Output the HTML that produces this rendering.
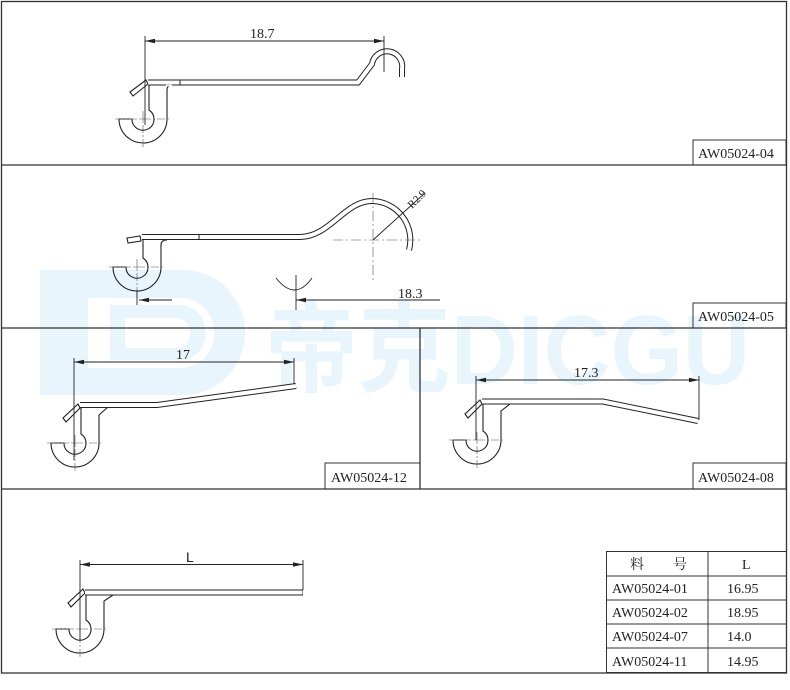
<!DOCTYPE html>
<html><head><meta charset="utf-8">
<style>
html,body{margin:0;padding:0;background:#fff;}
svg{display:block;}
.t{font-family:"Liberation Serif","Noto Serif CJK SC",serif;fill:#222;}
.wm{font-family:"Liberation Sans","Noto Sans CJK SC",sans-serif;font-weight:bold;fill:#e9f5fc;}
</style></head>
<body>
<svg width="790" height="690" viewBox="0 0 790 690" xmlns="http://www.w3.org/2000/svg">
<defs>
  <marker id="ar" markerWidth="10" markerHeight="6" refX="10" refY="3" orient="auto-start-reverse" markerUnits="userSpaceOnUse">
    <path d="M0,0.8 L10,3 L0,5.2 z" fill="#222"/>
  </marker>
  <g id="core" fill="none" stroke="#222" stroke-width="1.1">
    <path d="M6,-22 L6,-9 A11,11 0 1 1 -11,0 L-24,0 A24,24 0 0 0 24,0 L24,-22"/>
    <path d="M-28,0 H28 M0,-8 V30 M-4,0 H4 M0,-4 V4" stroke-width="0.6" stroke="#555" stroke-dasharray="8 2 2 2"/>
  </g>
</defs>

<!-- watermark -->
<g fill="#e9f5fc" fill-rule="evenodd">
  <path d="M40,270 H185 A62,62 0 0 1 245,332 A62,62 0 0 1 185,395 H40 Z M72,298 V368 H180 A34,34 0 0 0 214,333 A34,34 0 0 0 180,298 Z"/>
  <path d="M110,305 H180 A25,25 0 0 1 205,330 A25,25 0 0 1 180,360 H110 Z M125,318 V348 H178 A14,14 0 0 0 190,333 A14,14 0 0 0 178,318 Z"/>
  <rect x="72" y="298" width="16" height="70"/>
</g>
<text class="wm" x="265" y="384" font-size="98" textLength="485" lengthAdjust="spacingAndGlyphs">帝克DICGU</text>

<!-- frame -->
<g fill="none" stroke="#333" stroke-width="1.3">
  <rect x="1.5" y="1.5" width="785" height="671.5"/>
  <line x1="1" y1="165" x2="787" y2="165"/>
  <line x1="1" y1="328" x2="787" y2="328"/>
  <line x1="1" y1="489" x2="787" y2="489"/>
  <line x1="420" y1="328" x2="420" y2="489"/>
</g>
<g fill="none" stroke="#333" stroke-width="1">
  <rect x="693" y="140" width="93" height="25"/>
  <rect x="693" y="303" width="93" height="25"/>
  <rect x="325" y="463" width="95" height="26"/>
  <rect x="693" y="463" width="93" height="26"/>
</g>
<g class="t" font-size="14">
  <text class="t" x="698" y="158">AW05024-04</text>
  <text class="t" x="698" y="321">AW05024-05</text>
  <text class="t" x="331" y="482">AW05024-12</text>
  <text class="t" x="698" y="482">AW05024-08</text>
</g>

<!-- View 1 -->
<use href="#core" x="143" y="119"/>
<g fill="none" stroke="#222" stroke-width="1.1">
  <path d="M149,97 V80"/>
  <path d="M167,97 V90 Q167,85 172,85"/>
  <path d="M130,92 L133,96 L148,84 L146,80 Z"/>
</g>
<path d="M148,82.5 L358,82.5 L372,64 A14,14 0 0 1 402,69 L402,77" fill="none" stroke="#222" stroke-width="6"/>
<path d="M148,82.5 L358,82.5 L372,64 A14,14 0 0 1 402,69 L402,77" fill="none" stroke="#fff" stroke-width="4"/>
<path d="M166,85.5 H172" stroke="#fff" stroke-width="1.5"/>
<line x1="180" y1="80" x2="180" y2="85" stroke="#222"/>
<g stroke="#222" stroke-width="0.9">
  <line x1="145" y1="36" x2="145" y2="125"/>
  <line x1="384" y1="36" x2="384" y2="72"/>
  <line x1="145" y1="41" x2="384" y2="41" marker-start="url(#ar)" marker-end="url(#ar)"/>
</g>
<text class="t" x="250" y="38" font-size="14">18.7</text>

<!-- View 2 -->
<use href="#core" x="137" y="267"/>
<g fill="none" stroke="#222" stroke-width="1.1">
  <path d="M143,246 V235"/>
  <path d="M161,246 V245 Q161,240 167,240"/>
  <path d="M127,238 L128,243 L141,241 L140,236 Z"/>
</g>
<path d="M142,237 L300,237 C330,237 345,200 373,201 A39,39 0 0 1 409,250" fill="none" stroke="#222" stroke-width="6"/>
<path d="M142,237 L300,237 C330,237 345,200 373,201 A39,39 0 0 1 409,250" fill="none" stroke="#fff" stroke-width="4"/>
<line x1="199" y1="234" x2="199" y2="240" stroke="#222"/>
<g stroke="#555" stroke-width="0.6" stroke-dasharray="10 3 2 3">
  <line x1="333" y1="240" x2="420" y2="240"/>
  <line x1="373" y1="193" x2="373" y2="282"/>
</g>
<g stroke="#222" stroke-width="0.9" fill="none">
  <line x1="373" y1="240" x2="425" y2="193"/>
  <path d="M276,278 Q295,302 312,278"/>
  <line x1="296" y1="275" x2="296" y2="310"/>
  <line x1="296" y1="300" x2="440" y2="300" marker-start="url(#ar)"/>
  <line x1="137" y1="290" x2="137" y2="305"/>
  <line x1="139" y1="300" x2="172" y2="300" marker-start="url(#ar)"/>
</g>
<text class="t" x="412" y="209" font-size="11" transform="rotate(-45 412 209)">R2.9</text>
<text class="t" x="398" y="298" font-size="14">18.3</text>

<!-- View 12 -->
<use href="#core" x="75" y="443"/>
<g fill="none" stroke="#222" stroke-width="1.1">
  <path d="M81,421 V403"/>
  <path d="M99,421 L99,415 L108,407"/>
  <path d="M63,418 L66,422 L80,408 L78,404 Z"/>
</g>
<path d="M80,405 L157,405 L296,386" fill="none" stroke="#222" stroke-width="6"/>
<path d="M80,405 L157,405 L296,386" fill="none" stroke="#fff" stroke-width="4"/>
<g stroke="#222" stroke-width="0.9">
  <line x1="74" y1="358" x2="74" y2="460"/>
  <line x1="294" y1="358" x2="294" y2="384"/>
  <line x1="74" y1="362" x2="294" y2="362" marker-start="url(#ar)" marker-end="url(#ar)"/>
</g>
<text class="t" x="176" y="359" font-size="14">17</text>

<!-- View 08 -->
<use href="#core" x="477" y="440"/>
<g fill="none" stroke="#222" stroke-width="1.1">
  <path d="M483,418 V399"/>
  <path d="M501,418 L501,411 L510,404"/>
  <path d="M465,414 L468,418 L482,404 L480,400 Z"/>
</g>
<path d="M482,401.5 L603,401.5 L698,421" fill="none" stroke="#222" stroke-width="6"/>
<path d="M482,401.5 L603,401.5 L698,421" fill="none" stroke="#fff" stroke-width="4"/>
<g stroke="#222" stroke-width="0.9">
  <line x1="476" y1="376" x2="476" y2="440"/>
  <line x1="699" y1="376" x2="699" y2="420"/>
  <line x1="476" y1="380" x2="699" y2="380" marker-start="url(#ar)" marker-end="url(#ar)"/>
</g>
<text class="t" x="574" y="377" font-size="14">17.3</text>

<!-- View L -->
<use href="#core" x="80" y="629"/>
<g fill="none" stroke="#222" stroke-width="1.1">
  <path d="M86,607 V590"/>
  <path d="M104,607 L104,601 L113,595"/>
  <path d="M68,603 L71,607 L85,593 L83,589 Z"/>
</g>
<path d="M85,592.5 L303,592.5" fill="none" stroke="#222" stroke-width="6"/>
<path d="M85,592.5 L302.5,592.5" fill="none" stroke="#fff" stroke-width="4"/>
<g stroke="#222" stroke-width="0.9">
  <line x1="80" y1="560" x2="80" y2="640"/>
  <line x1="303" y1="560" x2="303" y2="590"/>
  <line x1="80" y1="564.5" x2="303" y2="564.5" marker-start="url(#ar)" marker-end="url(#ar)"/>
</g>
<text x="186" y="562" font-size="14" style="font-family:'Liberation Sans',sans-serif;fill:#222">L</text>

<!-- Table -->
<g fill="none" stroke="#333" stroke-width="1">
  <rect x="606.5" y="551.5" width="180" height="121"/>
  <line x1="708" y1="551" x2="708" y2="673"/>
  <line x1="606" y1="576" x2="787" y2="576"/>
  <line x1="606" y1="600" x2="787" y2="600"/>
  <line x1="606" y1="624" x2="787" y2="624"/>
  <line x1="606" y1="648" x2="787" y2="648"/>
</g>
<g font-size="14">
  <text class="t" x="630" y="569">料</text><text class="t" x="673" y="569">号</text>
  <text class="t" x="742" y="569">L</text>
  <text class="t" x="612" y="593">AW05024-01</text><text class="t" x="727" y="593">16.95</text>
  <text class="t" x="612" y="617">AW05024-02</text><text class="t" x="727" y="617">18.95</text>
  <text class="t" x="612" y="641">AW05024-07</text><text class="t" x="727" y="641">14.0</text>
  <text class="t" x="612" y="666">AW05024-11</text><text class="t" x="727" y="666">14.95</text>
</g>
</svg>
</body></html>
